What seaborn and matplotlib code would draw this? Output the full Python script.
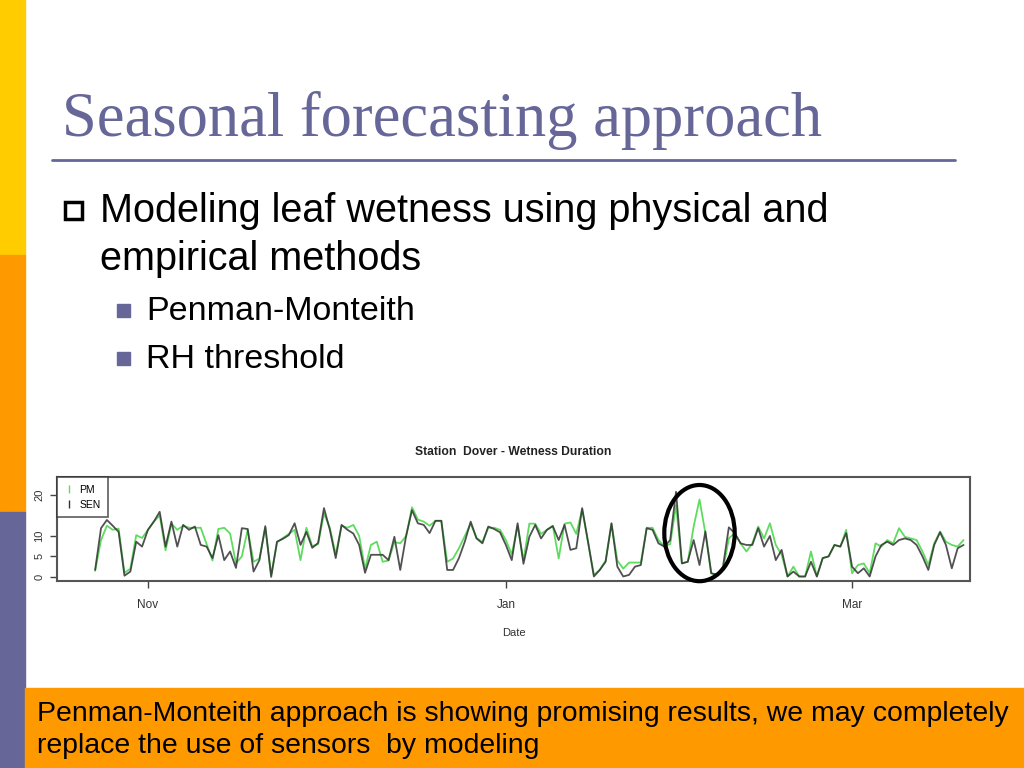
import matplotlib
matplotlib.use("Agg")
import matplotlib.pyplot as plt
import matplotlib.dates as mdates
from matplotlib.patches import Rectangle, Ellipse
from matplotlib.lines import Line2D
import numpy as np
import pandas as pd
import seaborn as sns

sns.set_theme(style="white")
plt.rcParams['font.family'] = ['Liberation Sans', 'DejaVu Sans']
plt.rcParams['text.color'] = 'black'

# daily wetness duration (hours), station Dover, 23 Oct -> 20 Mar
start_date = "2010-10-23"
sen = [1.7, 11.9, 13.9, 12.5, 11.0, 0.3, 1.3, 8.6, 7.4, 11.5,
       13.5, 15.9, 7.4, 13.5, 7.4, 12.7, 11.5, 12.3, 7.8, 7.4,
       4.6, 10.2, 4.1, 6.2, 2.2, 11.9, 11.7, 1.3, 4.1, 12.4,
       0.0, 8.6, 9.3, 10.2, 13.1, 7.8, 11.0, 7.1, 8.3, 16.8,
       11.5, 4.6, 12.7, 11.5, 10.6, 7.8, 1.0, 5.4, 5.4, 5.4,
       4.1, 9.8, 1.7, 10.0, 16.3, 13.1, 12.7, 10.7, 13.7, 13.7,
       1.7, 1.7, 4.6, 8.6, 13.5, 9.4, 8.2, 12.3, 11.7, 10.9,
       7.8, 4.1, 13.1, 3.2, 9.8, 12.7, 9.4, 11.5, 12.4, 9.0,
       12.7, 6.6, 7.0, 16.8, 8.6, 0.1, 1.7, 3.7, 13.1, 2.5,
       0.1, 0.5, 2.5, 2.9, 11.9, 11.5, 8.2, 7.4, 9.0, 20.8,
       3.3, 3.7, 9.0, 2.9, 11.1, 0.9, 0.5, 2.5, 12.1, 10.7,
       8.2, 7.8, 7.8, 11.9, 7.4, 10.0, 4.1, 6.6, 0.1, 1.3,
       0.1, 0.1, 3.7, 0.1, 4.6, 5.0, 7.8, 7.4, 10.7, 2.5,
       0.9, 2.1, 0.1, 5.0, 7.8, 8.6, 7.8, 9.0, 9.4, 9.0,
       7.8, 5.0, 1.7, 7.8, 10.9, 7.8, 2.1, 7.0, 7.8]
pm = [1.5, 9.0, 12.5, 11.5, 11.8, 1.0, 2.0, 10.2, 9.5, 11.5,
      13.5, 15.0, 6.5, 13.0, 11.5, 12.5, 12.0, 12.0, 12.0, 8.0,
      4.0, 11.7, 12.0, 10.6, 3.3, 5.0, 11.5, 3.7, 4.5, 12.0,
      0.5, 8.5, 9.5, 10.5, 11.5, 4.1, 12.0, 7.5, 8.0, 15.5,
      12.0, 5.5, 12.5, 12.0, 12.7, 10.0, 2.0, 7.8, 8.6, 3.7,
      4.0, 8.5, 8.2, 10.0, 17.0, 14.0, 13.5, 12.5, 13.7, 13.7,
      3.7, 4.5, 7.0, 10.0, 13.0, 9.5, 8.5, 12.0, 12.0, 11.5,
      9.0, 5.5, 12.5, 4.0, 13.0, 13.0, 10.5, 11.5, 12.5, 4.5,
      13.0, 13.3, 10.5, 16.5, 8.5, 0.5, 1.7, 4.0, 13.0, 4.0,
      2.0, 3.5, 3.5, 3.5, 12.0, 12.0, 9.0, 7.5, 8.0, 17.5,
      3.3, 3.7, 12.3, 18.9, 10.7, 0.9, 0.5, 1.7, 9.4, 10.7,
      8.2, 6.2, 8.2, 12.3, 9.4, 13.1, 7.8, 5.4, 0.1, 2.5,
      0.1, 0.1, 6.2, 0.1, 4.6, 5.0, 7.8, 7.4, 11.5, 0.9,
      2.9, 3.3, 0.9, 8.2, 7.4, 9.0, 8.2, 11.9, 9.8, 9.4,
      9.0, 6.2, 2.9, 8.2, 11.1, 8.6, 7.8, 7.4, 9.0]

y_ticks = [0, 5, 10, 20]
x_tick_dates = ["2010-11-01", "2011-01-01", "2011-03-01"]
x_tick_labels = ["Nov", "Jan", "Mar"]

df = pd.DataFrame({"date": pd.date_range(start_date, periods=len(sen), freq="D"),
                   "PM": pm, "SEN": sen})

W, H = 1024, 768
fig = plt.figure(figsize=(10.24, 7.68), dpi=100)
fig.patch.set_facecolor("white")

def fx(x):
    return x / W

def fy(y):
    return 1 - y / H

# slide decorations
purple = "#666699"
for y0, y1, col in [(0, 255, "#FFCC00"), (255, 512, "#FF9900"), (512, 768, purple)]:
    fig.patches.append(Rectangle((0, fy(y1)), fx(25), (y1 - y0) / H,
                                 transform=fig.transFigure, color=col, zorder=0))
fig.patches.append(Rectangle((fx(25), 0), 1 - fx(25), (768 - 688) / H,
                             transform=fig.transFigure, color="#FF9900", zorder=0))
fig.lines.append(Line2D([fx(52), fx(955)], [fy(160), fy(160)],
                        transform=fig.transFigure, color=purple, lw=2))

fig.text(fx(62), fy(121), "Seasonal forecasting approach", family="Liberation Serif",
         fontsize=45, color=purple, va="center")

fig.patches.append(Rectangle((fx(65), fy(219)), fx(17), 17 / H, transform=fig.transFigure,
                             fill=False, edgecolor="black", lw=2.5))
fig.text(fx(100), fy(211), "Modeling leaf wetness using physical and", fontsize=28.5, va="center")
fig.text(fx(100), fy(259), "empirical methods", fontsize=28.5, va="center")
for yy, txt in [(311, "Penman-Monteith"), (359, "RH threshold")]:
    fig.patches.append(Rectangle((fx(117), fy(yy + 6)), fx(13), 13 / H,
                                 transform=fig.transFigure, color=purple))
    fig.text(fx(146), fy(yy), txt, fontsize=24.5, va="center")

fig.text(fx(37), fy(714), "Penman-Monteith approach is showing promising results, we may completely",
         fontsize=20.4, va="center")
fig.text(fx(37), fy(746), "replace the use of sensors  by modeling", fontsize=20.4, va="center")

# chart
ax = fig.add_axes([fx(57), fy(581), fx(970 - 57), (581 - 477) / H])
sns.lineplot(data=df, x="date", y="PM", color="#5fdc5f", lw=1.3, ax=ax)
sns.lineplot(data=df, x="date", y="SEN", color="#333333", alpha=0.85, lw=1.3, ax=ax)

d0 = pd.Timestamp(start_date)
ax.set_xlim(d0 - pd.Timedelta(days=6.5), d0 + pd.Timedelta(days=149.1))
ax.set_ylim(-1, 24.4)
ax.set_yticks(y_ticks)
ax.set_yticklabels([str(v) for v in y_ticks], rotation=90, va="center", fontsize=8, color="#333333")
ax.set_xticks(pd.to_datetime(x_tick_dates))
ax.set_xticklabels(x_tick_labels, fontsize=8.5, color="#333333")
ax.tick_params(axis="both", direction="out", length=5, width=1, color="#444444",
               bottom=True, left=True)
ax.tick_params(axis="x", pad=8)
ax.tick_params(axis="y", pad=4)
ax.set_xlabel("Date", fontsize=8, color="#333333", labelpad=12)
ax.set_ylabel("")
for s in ax.spines.values():
    s.set_color("#555555")
    s.set_linewidth(1.5)
ax.set_title("Station  Dover - Wetness Duration", fontsize=8.7, fontweight="bold",
             color="#222222", pad=16)

handles = [Line2D([], [], color="#5fdc5f", marker="|", ls="none", markersize=6),
           Line2D([], [], color="#333333", marker="|", ls="none", markersize=6)]
leg = ax.legend(handles, ["PM", "SEN"], loc="upper left", fontsize=7.5, frameon=True,
                fancybox=False, borderaxespad=0, handlelength=0.8, labelspacing=0.45,
                borderpad=0.75, handletextpad=0.6)
leg.get_frame().set_edgecolor("#333333")
leg.get_frame().set_linewidth(1.2)

# circle around the highlighted event
center = mdates.date2num(d0 + pd.Timedelta(days=103))
ax.add_patch(Ellipse((center, 10.7), 12, 23.5, fill=False, edgecolor="black", lw=3,
                     clip_on=False, zorder=5))

fig.savefig("out.png", dpi=100)
